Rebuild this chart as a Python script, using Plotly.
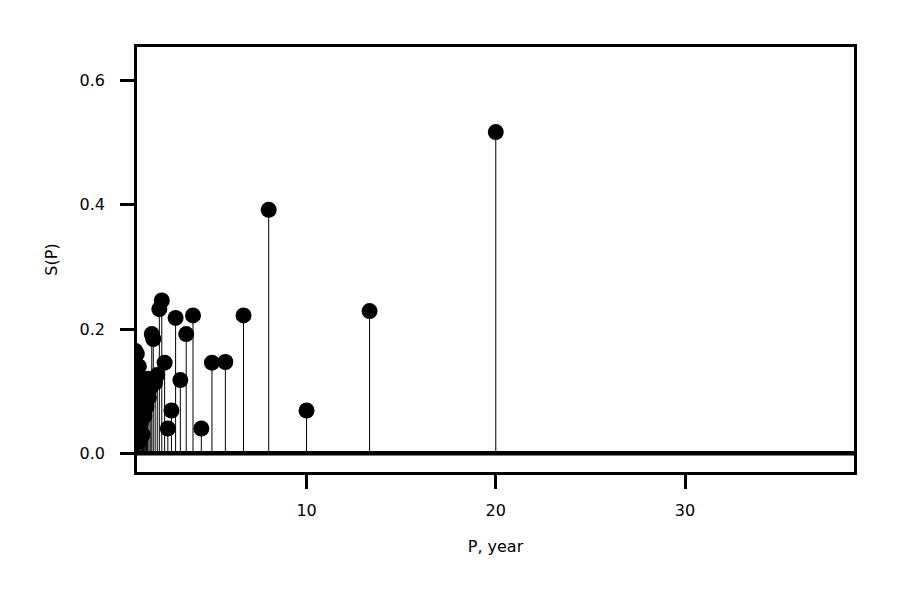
import plotly.graph_objects as go

# periods (years) and spectral power
period = [20.0, 13.33, 10.0, 8.0, 6.67, 5.71, 5.0, 4.44, 4.0, 3.64,
          3.33, 3.08, 2.86, 2.67, 2.5, 2.35, 2.22, 2.11, 2.0, 1.9,
          1.82, 1.74, 1.67, 1.6, 1.54, 1.48, 1.43, 1.38, 1.33, 1.29,
          1.25, 1.21, 1.18, 1.14, 1.11, 1.08, 1.05, 1.03, 1.0, 0.98,
          0.95, 0.93, 0.91]
power = [0.517, 0.229, 0.069, 0.392, 0.222, 0.147, 0.146, 0.040, 0.222, 0.192,
         0.118, 0.218, 0.069, 0.040, 0.146, 0.246, 0.232, 0.126, 0.114, 0.184,
         0.192, 0.105, 0.090, 0.120, 0.075, 0.110, 0.060, 0.100, 0.030, 0.120,
         0.050, 0.085, 0.020, 0.140, 0.045, 0.100, 0.065, 0.160, 0.030, 0.142,
         0.165, 0.080, 0.120]

y_ticks = [0.0, 0.2, 0.4, 0.6]
x_ticks = [10, 20, 30]

FONT = 'DejaVu Sans'

stem_x, stem_y = [], []
for p, s in zip(period, power):
    stem_x += [p, p, None]
    stem_y += [0, s, None]

fig = go.Figure()

fig.add_trace(go.Scatter(
    x=stem_x, y=stem_y, mode='lines',
    line=dict(color='black', width=1),
    hoverinfo='skip', showlegend=False
))

fig.add_trace(go.Scatter(
    x=period, y=power, mode='markers',
    marker=dict(color='black', size=16, line=dict(width=0)),
    showlegend=False
))

# baseline
fig.add_hline(y=0, line_color='black', line_width=4.5)

axis_style = dict(
    showline=True, mirror=True, linecolor='black', linewidth=2.5,
    ticks='outside', ticklen=14, tickwidth=2.5, tickcolor='black',
    showgrid=False, zeroline=False,
    tickfont=dict(family=FONT, size=16, color='black'),
)

fig.update_xaxes(
    range=[1.04, 38.93], tickvals=x_ticks,
    title=dict(text='P, year', font=dict(family=FONT, size=16, color='black'), standoff=22),
    ticklabelstandoff=8,
    **axis_style
)
fig.update_yaxes(
    range=[-0.030, 0.654], tickvals=y_ticks, tickformat='.1f',
    title=dict(text='S(P)', font=dict(family=FONT, size=16, color='black'), standoff=18),
    ticklabelstandoff=12,
    **axis_style
)

fig.update_layout(
    width=900, height=600,
    margin=dict(l=129, r=54, t=39, b=136),
    plot_bgcolor='white', paper_bgcolor='white',
    font=dict(family=FONT, color='black'),
)

fig.write_html("out.html")
